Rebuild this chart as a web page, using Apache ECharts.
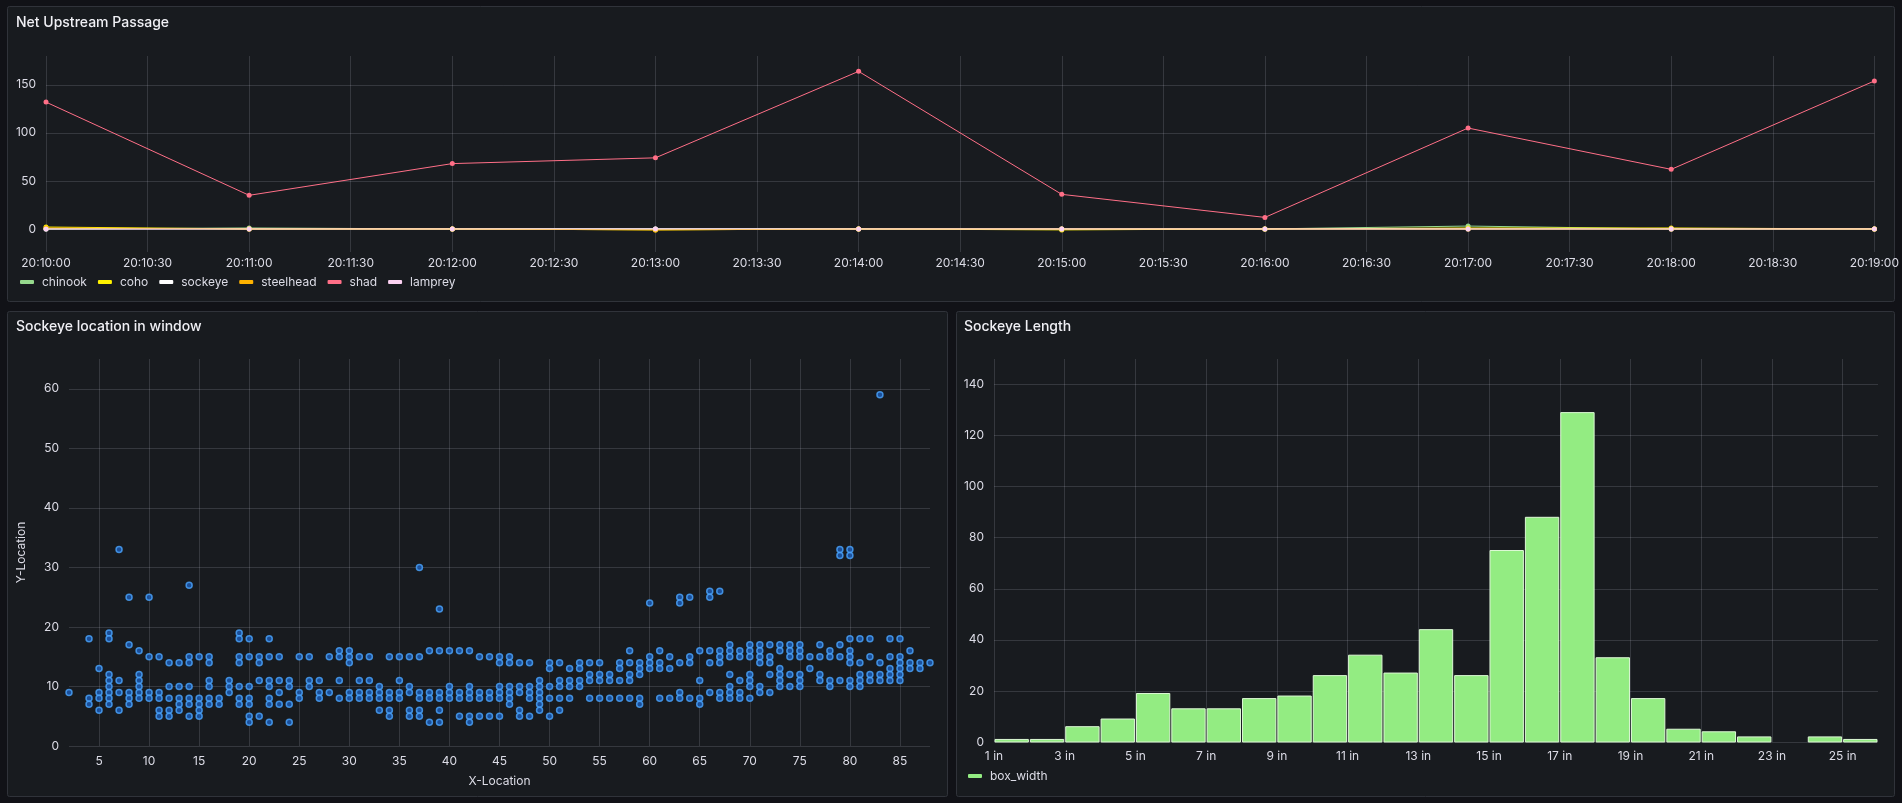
<!DOCTYPE html>
<html>
<head>
<meta charset="utf-8">
<title>Fish passage</title>
<script src="https://cdn.jsdelivr.net/npm/echarts@6.0.0/dist/echarts.min.js"></script>
<style>
  html, body { margin: 0; padding: 0; background: #111217; }
  #chart { width: 1902px; height: 803px; }
</style>
</head>
<body>
<div id="chart"></div>
<script>
// --- Net Upstream Passage (counts per minute) ---
const timeLabels = [
  '20:10:00', '20:10:30', '20:11:00', '20:11:30', '20:12:00', '20:12:30', '20:13:00',
  '20:13:30', '20:14:00', '20:14:30', '20:15:00', '20:15:30', '20:16:00', '20:16:30',
  '20:17:00', '20:17:30', '20:18:00', '20:18:30', '20:19:00',
]
const sampleTimes = ['20:10:00', '20:11:00', '20:12:00', '20:13:00', '20:14:00', '20:15:00', '20:16:00', '20:17:00', '20:18:00', '20:19:00']
const chinook = [0, 1, 0, 0, 0, 0, 0, 3, 0, 0]
const coho = [2, 0, 0, -1, 0, -1, 0, 1, 1, 0]
const sockeye = [0, 0, 0, 0, 0, 0, 0, 0, 0, 0]
const steelhead = [1, 0, 0, -1, 0, 0, 0, 0, 0, 0]
const shad = [132, 35, 68, 74, 164, 36, 12, 105, 62, 154]
const lamprey = [0, 0, 0, 0, 0, 0, 0, 0, 0, 0]
const passageTicks = [0, 50, 100, 150]

// --- Sockeye location in window: [x, list of y at that x] ---
const sockeyeColumns = [
  [2, [9]], [4, [18, 8, 7]], [5, [13, 9, 8, 6]], [6, [19, 18, 12, 11, 10, 9, 8, 7]],
  [7, [33, 11, 9, 6]], [8, [25, 17, 9, 8, 7]], [9, [16, 12, 11, 10, 9, 8]], [10, [25, 15, 9, 8]],
  [11, [15, 9, 8, 6, 5]], [12, [14, 10, 8, 6, 5]], [13, [14, 10, 8, 7, 6]], [14, [27, 15, 14, 10, 8, 7, 5]],
  [15, [15, 8, 7, 6, 5]], [16, [15, 14, 11, 10, 8, 7]], [17, [8, 7]], [18, [11, 10, 9]],
  [19, [19, 18, 15, 14, 10, 8, 7]], [20, [18, 15, 10, 8, 7, 5, 4]], [21, [15, 14, 11, 5]],
  [22, [18, 15, 11, 10, 8, 7, 4]], [23, [15, 11, 9, 7]], [24, [11, 10, 7, 4]], [25, [15, 9, 8]],
  [26, [15, 11, 10]], [27, [11, 9, 8]], [28, [15, 9]], [29, [16, 15, 11, 8]], [30, [16, 15, 14, 9, 8]],
  [31, [15, 11, 9, 8]], [32, [15, 11, 9, 8]], [33, [10, 9, 8, 6]], [34, [15, 9, 8, 6, 5]],
  [35, [15, 11, 9, 8]], [36, [15, 10, 9, 6, 5]], [37, [30, 15, 9, 8, 6, 5]], [38, [16, 9, 8, 4]],
  [39, [23, 16, 9, 8, 6, 4]], [40, [16, 10, 9, 8]], [41, [16, 9, 8, 5]], [42, [16, 10, 9, 8, 5, 4]],
  [43, [15, 9, 8, 5]], [44, [15, 9, 8, 5]], [45, [15, 14, 10, 9, 8, 5]], [46, [15, 14, 10, 9, 8, 7]],
  [47, [14, 10, 9, 6, 5]], [48, [14, 10, 9, 8, 5]], [49, [11, 10, 9, 8, 7, 6]], [50, [14, 13, 10, 8, 5]],
  [51, [14, 11, 10, 8, 6]], [52, [13, 11, 10, 8]], [53, [14, 13, 11, 10]], [54, [14, 12, 11, 8]],
  [55, [14, 12, 11, 8]], [56, [12, 11, 8]], [57, [14, 13, 11, 8]], [58, [16, 14, 12, 11, 8]],
  [59, [14, 13, 12, 8, 7]], [60, [24, 15, 14, 13]], [61, [16, 14, 13, 8]], [62, [15, 13, 8]],
  [63, [25, 24, 14, 9, 8]], [64, [25, 15, 14, 8]], [65, [16, 11, 8, 7]], [66, [26, 25, 16, 14, 9]],
  [67, [26, 16, 15, 14, 9, 8]], [68, [17, 16, 15, 12, 10, 9, 8]], [69, [16, 15, 11, 9, 8]],
  [70, [17, 16, 15, 12, 11, 10, 8]], [71, [17, 16, 15, 14, 10, 9]], [72, [17, 15, 14, 12, 9]],
  [73, [17, 16, 13, 12, 11, 10]], [74, [17, 16, 15, 12, 10]], [75, [17, 16, 15, 12, 11, 10]],
  [76, [15, 13]], [77, [17, 15, 12, 11]], [78, [16, 15, 11, 10]], [79, [33, 32, 17, 15, 11]],
  [80, [33, 32, 18, 16, 15, 14, 11, 10]], [81, [18, 14, 12, 11, 10]], [82, [18, 15, 12, 11]],
  [83, [59, 14, 12, 11]], [84, [18, 15, 13, 12, 11]], [85, [18, 15, 14, 13, 12, 11]],
  [86, [16, 14, 13]], [87, [14, 13]], [88, [14]],
]
const locXTicks = [5, 10, 15, 20, 25, 30, 35, 40, 45, 50, 55, 60, 65, 70, 75, 80, 85]
const locYTicks = [0, 10, 20, 30, 40, 50, 60]

// --- Sockeye Length histogram (1 inch bins) ---
const binStarts = [1, 2, 3, 4, 5, 6, 7, 8, 9, 10, 11, 12, 13, 14, 15, 16, 17, 18, 19, 20, 21, 22, 23, 24, 25]
const binCounts = [1, 1, 6, 9, 19, 13, 13, 17, 18, 26, 34, 27, 44, 26, 75, 88, 129, 33, 17, 5, 4, 2, 0, 2, 1]
const lengthXTicks = [1, 3, 5, 7, 9, 11, 13, 15, 17, 19, 21, 23, 25]
const lengthYTicks = [0, 20, 40, 60, 80, 100, 120, 140]

const FONT = 'Inter, "Noto Sans", sans-serif'
const TEXT = '#dcdce6'
const GRID_LINE = 'rgba(204, 204, 220, 0.17)'
const PANEL_BG = '#181b1f'
const PANEL_BORDER = '#30333a'

const species = [
  { name: 'chinook', data: chinook, color: '#96d98d' },
  { name: 'coho', data: coho, color: '#fff200' },
  { name: 'sockeye', data: sockeye, color: '#ffffff' },
  { name: 'steelhead', data: steelhead, color: '#ffb300' },
  { name: 'shad', data: shad, color: '#ff6f87' },
  { name: 'lamprey', data: lamprey, color: '#fcd2f2' },
]

const axisText = { color: TEXT, fontSize: 12, fontFamily: FONT }
const splitLine = { show: true, lineStyle: { color: GRID_LINE, width: 1 } }

const chart = echarts.init(document.getElementById('chart'))

const panels = [
  { x: 7.5, y: 6.5, width: 1887, height: 295 },
  { x: 7.5, y: 311.5, width: 940, height: 485 },
  { x: 956.5, y: 311.5, width: 938, height: 485 },
]

const options = {
  backgroundColor: '#111217',
  animation: false,
  textStyle: { fontFamily: FONT },
  graphic: panels.map(p => ({
    type: 'rect',
    z: -10,
    silent: true,
    shape: { x: p.x, y: p.y, width: p.width, height: p.height, r: 2 },
    style: { fill: PANEL_BG, stroke: PANEL_BORDER, lineWidth: 1 },
  })),
  title: [
    { text: 'Net Upstream Passage', left: 16, top: 16 },
    { text: 'Sockeye location in window', left: 16, top: 320 },
    { text: 'Sockeye Length', left: 964, top: 320 },
  ].map(t => ({ ...t, padding: 0, textStyle: { color: '#f0f0f5', fontSize: 14, fontWeight: 500, fontFamily: FONT } })),
  legend: [
    {
      data: species.map(s => s.name),
      left: 20,
      top: 276,
      padding: 0,
      icon: 'roundRect',
      itemWidth: 14,
      itemHeight: 4,
      itemGap: 11,
      textStyle: { ...axisText, padding: [0, 0, 0, 3] },
    },
    {
      data: ['box_width'],
      left: 968,
      top: 770,
      padding: 0,
      icon: 'roundRect',
      itemWidth: 14,
      itemHeight: 4,
      textStyle: { ...axisText, padding: [0, 0, 0, 3] },
    },
  ],
  grid: [
    { left: 46, top: 56, width: 1832, height: 196 },
    { left: 69, top: 359, width: 861, height: 387 },
    { left: 994, top: 359, width: 884, height: 383 },
  ],
  xAxis: [
    {
      gridIndex: 0,
      type: 'value',
      min: 0,
      max: timeLabels.length - 1,
      axisLine: { show: false },
      axisTick: { show: false, customValues: timeLabels.map((_, i) => i) },
      axisLabel: {
        ...axisText,
        margin: 5,
        customValues: timeLabels.map((_, i) => i),
        formatter: v => timeLabels[v],
      },
      splitLine,
    },
    {
      gridIndex: 1,
      type: 'value',
      min: 2,
      max: 88,
      name: 'X-Location',
      nameLocation: 'middle',
      nameGap: 29,
      nameTextStyle: { ...axisText },
      axisLine: { show: false },
      axisTick: { show: false, customValues: locXTicks },
      axisLabel: { ...axisText, margin: 9, customValues: locXTicks },
      splitLine,
    },
    {
      gridIndex: 2,
      type: 'value',
      min: 1,
      max: 26,
      axisLine: { show: false },
      axisTick: { show: false, customValues: lengthXTicks },
      axisLabel: { ...axisText, margin: 8, customValues: lengthXTicks, formatter: v => v + ' in' },
      splitLine,
    },
  ],
  yAxis: [
    {
      gridIndex: 0,
      type: 'value',
      min: -24,
      max: 180,
      axisLine: { show: false },
      axisTick: { show: false, customValues: passageTicks },
      axisLabel: { ...axisText, margin: 10, customValues: passageTicks },
      splitLine,
    },
    {
      gridIndex: 1,
      type: 'value',
      min: 0,
      max: 65,
      name: 'Y-Location',
      nameLocation: 'middle',
      nameGap: 42,
      nameRotate: 90,
      nameTextStyle: { ...axisText },
      axisLine: { show: false },
      axisTick: { show: false, customValues: locYTicks },
      axisLabel: { ...axisText, margin: 10, customValues: locYTicks },
      splitLine,
    },
    {
      gridIndex: 2,
      type: 'value',
      min: 0,
      max: 150,
      axisLine: { show: false },
      axisTick: { show: false, customValues: lengthYTicks },
      axisLabel: { ...axisText, margin: 10, customValues: lengthYTicks },
      splitLine,
    },
  ],
  series: [
    ...species.map(s => ({
      name: s.name,
      type: 'line',
      xAxisIndex: 0,
      yAxisIndex: 0,
      data: s.data.map((v, i) => [timeLabels.indexOf(sampleTimes[i]), v]),
      symbol: 'circle',
      symbolSize: 5,
      showSymbol: true,
      lineStyle: { width: 1, color: s.color },
      itemStyle: { color: s.color },
    })),
    {
      name: 'sockeye location',
      type: 'scatter',
      xAxisIndex: 1,
      yAxisIndex: 1,
      data: sockeyeColumns.flatMap(([x, ys]) => ys.map(y => [x, y])),
      symbol: 'circle',
      symbolSize: 6,
      itemStyle: { color: '#1d5db8', borderColor: '#4ba6ff', borderWidth: 1.5 },
    },
    {
      name: 'box_width',
      type: 'custom',
      xAxisIndex: 2,
      yAxisIndex: 2,
      data: binStarts.map((b, i) => [b, b + 1, binCounts[i]]),
      itemStyle: { color: '#93ec82' },
      renderItem: (params, api) => {
        if (!api.value(2))
          return null
        const topLeft = api.coord([api.value(0), api.value(2)])
        const bottomRight = api.coord([api.value(1), 0])
        return {
          type: 'rect',
          shape: {
            x: topLeft[0] + 1,
            y: topLeft[1],
            width: bottomRight[0] - topLeft[0] - 2,
            height: bottomRight[1] - topLeft[1],
          },
          style: { fill: '#93ec82', stroke: '#dcf8d4', lineWidth: 1 },
        }
      },
    },
  ],
}

chart.setOption(options)
</script>
</body>
</html>
